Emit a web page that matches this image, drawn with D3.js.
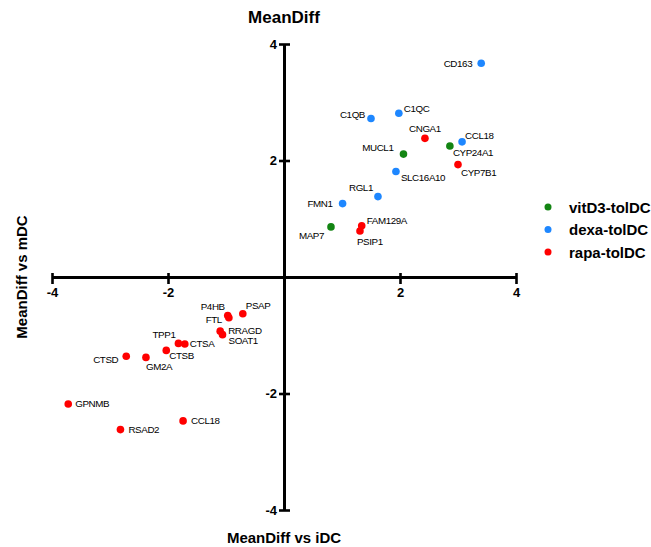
<!DOCTYPE html>
<html>
<head>
<meta charset="utf-8">
<script src="https://cdn.jsdelivr.net/npm/d3@7"></script>
<style>
  body { margin: 0; background: #fff; }
  svg { display: block; font-family: "Liberation Sans", Arial, sans-serif; }
</style>
</head>
<body>
<div id="chart"></div>
<script>
const width = 651;
const height = 547;

// gene labels, x = MeanDiff vs iDC, y = MeanDiff vs mDC, group index
const genes = ["CD163", "C1QC", "C1QB", "CNGA1", "CCL18", "CYP24A1", "MUCL1", "CYP7B1", "SLC16A10", "RGL1", "FMN1", "MAP7", "FAM129A", "PSIP1",
  "P4HB", "FTL", "PSAP", "RRAGD", "SOAT1", "TPP1", "CTSA", "CTSB", "CTSD", "GM2A", "GPNMB", "RSAD2", "CCL18"];
const meanDiffIDC = [3.40, 1.98, 1.50, 2.43, 3.07, 2.86, 2.06, 3.00, 1.93, 1.62, 1.01, 0.81, 1.34, 1.31,
  -0.97, -0.95, -0.71, -1.10, -1.06, -1.82, -1.71, -2.03, -2.72, -2.38, -3.72, -2.82, -1.74];
const meanDiffMDC = [3.67, 2.81, 2.72, 2.38, 2.32, 2.25, 2.11, 1.93, 1.81, 1.38, 1.26, 0.86, 0.88, 0.79,
  -0.66, -0.70, -0.63, -0.93, -0.99, -1.14, -1.15, -1.26, -1.36, -1.38, -2.18, -2.62, -2.47];
const groupOf = [1, 1, 1, 2, 1, 0, 0, 2, 1, 1, 1, 0, 2, 2,
  2, 2, 2, 2, 2, 2, 2, 2, 2, 2, 2, 2, 2];
const seriesNames = ["vitD3-tolDC", "dexa-tolDC", "rapa-tolDC"];
const axisTicks = [-4, -2, 2, 4];

// label placement [dx, dy, anchor] relative to each dot
const labelPlace = [
  [-9, 3.5, "end"], [5, -1, "start"], [-6, -1, "end"], [0, -6, "middle"], [3, -2.5, "start"], [3, 10, "start"],
  [-10, -3, "end"], [3, 11, "start"], [5, 9, "start"], [-5, -6, "end"], [-10, 3, "end"], [-7, 12, "end"],
  [5, -2, "start"], [-3, 14, "start"],
  [-3, -5, "end"], [-7, 5, "end"], [3, -5, "start"], [8, 3, "start"], [6, 9, "start"], [-3, -5, "end"],
  [5, 3.5, "start"], [3, 9, "start"], [-8, 7, "end"], [0, 13, "start"], [7, 3.5, "start"], [8, 3.5, "start"], [8, 3.5, "start"]
];

const colors = ["#138513", "#1E87FF", "#FF0000"];

const svg = d3.select("#chart").append("svg")
  .attr("width", width)
  .attr("height", height);

const x = d3.scaleLinear().domain([-4, 4]).range([52, 516]);
const y = d3.scaleLinear().domain([-4, 4]).range([510, 44]);

// plain hyphen minus like the original
const fmt = d => String(d);

// x axis through y=0
const gx = svg.append("g")
  .attr("transform", `translate(0,${y(0)})`)
  .call(d3.axisBottom(x).tickValues(axisTicks).tickSize(7).tickPadding(4).tickSizeOuter(0).tickFormat(fmt));
gx.select(".domain").attr("stroke", "#000").attr("stroke-width", 3);
gx.selectAll(".tick line").attr("y1", -4).attr("y2", 7).attr("stroke", "#000").attr("stroke-width", 2.6);
gx.selectAll(".tick text").attr("fill", "#000").style("font-size", "13px").style("font-weight", "bold")
  .style("font-family", "Liberation Sans, Arial, sans-serif");

// y axis through x=0
const gy = svg.append("g")
  .attr("transform", `translate(${x(0)},0)`)
  .call(d3.axisLeft(y).tickValues(axisTicks).tickSize(5).tickPadding(2).tickSizeOuter(0).tickFormat(fmt));
gy.select(".domain").attr("stroke", "#000").attr("stroke-width", 3);
gy.selectAll(".tick line").attr("x1", -5).attr("x2", 6).attr("stroke", "#000").attr("stroke-width", 2.6);
gy.selectAll(".tick text").attr("fill", "#000").style("font-size", "13px").style("font-weight", "bold")
  .style("font-family", "Liberation Sans, Arial, sans-serif");

// titles
svg.append("text")
  .attr("x", x(0)).attr("y", 23)
  .attr("text-anchor", "middle")
  .style("font-size", "17px").style("font-weight", "bold")
  .text("MeanDiff");

svg.append("text")
  .attr("x", x(0)).attr("y", 543)
  .attr("text-anchor", "middle")
  .style("font-size", "15px").style("font-weight", "bold")
  .text("MeanDiff vs iDC");

svg.append("text")
  .attr("transform", `translate(27,${y(0)}) rotate(-90)`)
  .attr("text-anchor", "middle")
  .style("font-size", "15px").style("font-weight", "bold")
  .text("MeanDiff vs mDC");

// points
const pts = genes.map((g, i) => ({ gene: g, x: meanDiffIDC[i], y: meanDiffMDC[i], grp: groupOf[i], place: labelPlace[i] }));

svg.append("g").selectAll("circle")
  .data(pts)
  .join("circle")
  .attr("cx", d => x(d.x))
  .attr("cy", d => y(d.y))
  .attr("r", 3.8)
  .attr("fill", d => colors[d.grp]);

svg.append("g").selectAll("text")
  .data(pts)
  .join("text")
  .attr("x", d => x(d.x) + d.place[0])
  .attr("y", d => y(d.y) + d.place[1])
  .attr("text-anchor", d => d.place[2])
  .style("font-size", "9.8px")
  .style("letter-spacing", "-0.4px")
  .attr("fill", "#000")
  .text(d => d.gene);

// legend
const legend = svg.append("g").attr("transform", "translate(548,207)");
const item = legend.selectAll("g")
  .data(seriesNames)
  .join("g")
  .attr("transform", (d, i) => `translate(0,${i * 22.5})`);
item.append("circle").attr("r", 3.5).attr("fill", (d, i) => colors[i]);
item.append("text")
  .attr("x", 21).attr("y", 5.5)
  .style("font-size", "15px").style("font-weight", "bold")
  .text(d => d);
</script>
</body>
</html>
